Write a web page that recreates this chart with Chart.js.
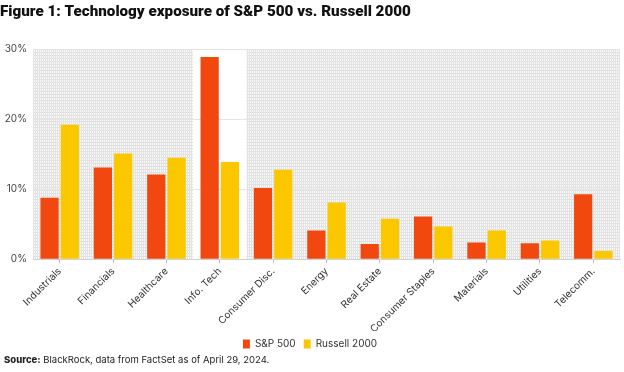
<!DOCTYPE html>
<html>
<head>
<meta charset="utf-8">
<script src="https://cdn.jsdelivr.net/npm/chart.js@4"></script>
<style>
  html, body { margin: 0; padding: 0; background: #fff; }
  #wrap { position: relative; width: 624px; height: 372px; }
  #chart { position: absolute; left: 0; top: 0; }
  #source { position: absolute; left: 4px; top: 354px; font: 9.5px Inter, "Noto Sans", sans-serif; color: #222; white-space: nowrap; }
  #source b { font-weight: 800; }
</style>
</head>
<body>
<div id="wrap">
  <canvas id="chart" width="624" height="372"></canvas>
  <div id="source"><b>Source:</b> BlackRock, data from FactSet as of April 29, 2024.</div>
</div>
<script>
const categories = ["Industrials", "Financials", "Healthcare", "Info. Tech", "Consumer Disc.", "Energy", "Real Estate", "Consumer Staples", "Materials", "Utilities", "Telecomm."];
const sp500 = [8.8, 13.1, 12.1, 28.9, 10.2, 4.1, 2.2, 6.1, 2.4, 2.3, 9.3];
const russell2000 = [19.2, 15.1, 14.5, 13.9, 12.8, 8.1, 5.8, 4.7, 4.1, 2.7, 1.2];
const seriesNames = ["S&P 500", "Russell 2000"];
const yTicks = [0, 10, 20, 30];
const highlightCategory = "Info. Tech";
const titleText = "Figure 1: Technology exposure of S&P 500 vs. Russell 2000";

const bgPlugin = {
  id: 'meshBackground',
  beforeDraw(chart) {
    const { ctx, chartArea: a, scales } = chart;
    ctx.save();
    ctx.fillStyle = '#f9f9f9';
    ctx.fillRect(a.left, a.top, a.right - a.left, a.bottom - a.top);
    ctx.strokeStyle = '#e2e2e2';
    ctx.lineWidth = 1;
    ctx.beginPath();
    for (let x = Math.floor(a.left) + 0.5; x < a.right; x += 2) {
      ctx.moveTo(x, a.top); ctx.lineTo(x, a.bottom);
    }
    for (let y = Math.floor(a.top) + 0.5; y < a.bottom; y += 3) {
      ctx.moveTo(a.left, y); ctx.lineTo(a.right, y);
    }
    ctx.stroke();
    const idx = categories.indexOf(highlightCategory);
    if (idx >= 0) {
      const xs = scales.x;
      const w = (xs.right - xs.left) / categories.length;
      const cx = xs.getPixelForValue(idx);
      ctx.fillStyle = '#ffffff';
      ctx.fillRect(cx - w / 2, a.top, w, a.bottom - a.top);
    }
    ctx.restore();
  }
};

new Chart(document.getElementById('chart'), {
  type: 'bar',
  data: {
    labels: categories,
    datasets: [
      { label: seriesNames[0], data: sp500, backgroundColor: '#f1480f', categoryPercentage: 0.76, barPercentage: 0.9 },
      { label: seriesNames[1], data: russell2000, backgroundColor: '#fbc800', categoryPercentage: 0.76, barPercentage: 0.9 }
    ]
  },
  options: {
    responsive: false,
    animation: false,
    layout: { padding: { left: 0, right: 4, top: 0, bottom: 13 } },
    plugins: {
      title: {
        display: true, text: titleText, align: 'start',
        color: '#111', font: { family: 'Roboto', weight: '900', size: 15.2 },
        padding: { top: 3, bottom: 28 }
      },
      legend: {
        position: 'bottom',
        labels: { boxWidth: 7, boxHeight: 9, color: '#333', padding: 8, font: { family: 'Inter', size: 10 } }
      },
      tooltip: { enabled: false }
    },
    scales: {
      x: {
        afterFit(scale) { scale.height = scale.height - 6; },
        grid: { display: true, drawOnChartArea: false, drawTicks: true, tickLength: 4, color: '#bbbbbb', offset: false },
        border: { display: true, color: '#d0d0d0' },
        ticks: { minRotation: 45, maxRotation: 45, padding: 2, color: '#333', font: { family: 'Inter', size: 10 } }
      },
      y: {
        min: 0, max: 30,
        afterBuildTicks(scale) { scale.ticks = yTicks.map(v => ({ value: v })); },
        afterFit(scale) { scale.width = 33; },
        grid: { color: '#e4e4e4', drawTicks: false },
        border: { display: false },
        ticks: { padding: 6, color: '#444', font: { family: 'Inter', size: 10 }, callback: v => v + '%' }
      }
    }
  },
  plugins: [bgPlugin]
});
</script>
</body>
</html>
